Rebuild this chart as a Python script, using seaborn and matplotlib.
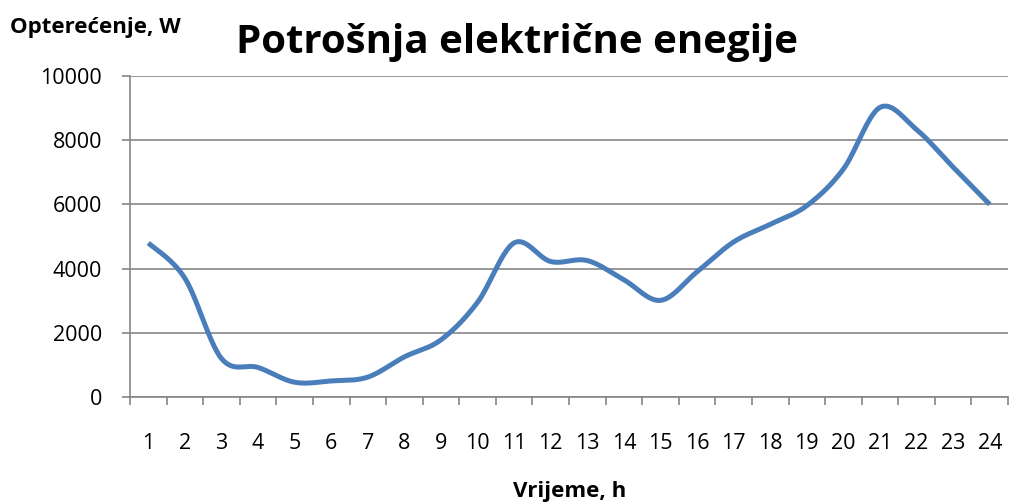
import numpy as np
import pandas as pd
import matplotlib
matplotlib.use("Agg")
import matplotlib.pyplot as plt
import seaborn as sns

# data
hours = list(range(1, 25))
load_w = [4800, 3700, 1200, 920, 460, 500, 620, 1250, 1780, 2950,
          4800, 4220, 4250, 3650, 3010, 3900, 4830, 5380, 5960, 7100,
          9020, 8330, 7160, 6000]

title = "Potrošnja električne enegije"
ylabel = "Opterećenje, W"
xlabel = "Vrijeme, h"

LINE_BLUE = "#4a7ebb"
GRID_GREY = "#868686"


def smooth_curve(x, y, steps=30):
    # Excel-like smoothed line: cubic bezier with catmull-rom control points
    x = np.asarray(x, float)
    y = np.asarray(y, float)
    px = np.concatenate([[x[0]], x, [x[-1]]])
    py = np.concatenate([[y[0]], y, [y[-1]]])
    xs, ys = [], []
    t = np.linspace(0, 1, steps)
    for i in range(1, len(px) - 2):
        p0 = np.array([px[i], py[i]])
        p3 = np.array([px[i + 1], py[i + 1]])
        c1 = p0 + (np.array([px[i + 1], py[i + 1]]) - np.array([px[i - 1], py[i - 1]])) / 6
        c2 = p3 - (np.array([px[i + 2], py[i + 2]]) - np.array([px[i], py[i]])) / 6
        pts = ((1 - t) ** 3)[:, None] * p0 + (3 * (1 - t) ** 2 * t)[:, None] * c1 \
            + (3 * (1 - t) * t ** 2)[:, None] * c2 + (t ** 3)[:, None] * p3
        xs.extend(pts[:, 0])
        ys.extend(pts[:, 1])
    return np.array(xs), np.array(ys)


sns.set_theme(style="white")
plt.rcParams["font.family"] = ["Open Sans", "DejaVu Sans"]
plt.rcParams["text.color"] = "black"

fig = plt.figure(figsize=(10.10, 5.04), dpi=100)
ax = fig.add_axes([130 / 1010, 1 - 397 / 504, 878 / 1010, 321 / 504])

sx, sy = smooth_curve(hours, load_w)
df = pd.DataFrame({"sat": sx, "opterecenje": sy})
sns.lineplot(data=df, x="sat", y="opterecenje", color=LINE_BLUE, linewidth=3.6,
             sort=False, ax=ax, solid_capstyle="butt")

ax.set_xlim(0.5, 24.5)
ax.set_ylim(0, 10000)
ax.set_yticks(range(0, 10001, 2000))
ax.set_xticks(hours)
ax.set_xticks(np.arange(0.5, 25, 1), minor=True)
ax.set_xlabel("")
ax.set_ylabel("")

ax.grid(axis="y", color=GRID_GREY, linewidth=1.2)
ax.set_axisbelow(True)
for side in ["top", "right"]:
    ax.spines[side].set_visible(False)
for side in ["left", "bottom"]:
    ax.spines[side].set_color(GRID_GREY)
    ax.spines[side].set_linewidth(1.2)

ax.tick_params(axis="y", which="major", left=True, length=6, width=1.2,
               color=GRID_GREY, pad=14, labelsize=15.5, labelcolor="black")
ax.tick_params(axis="x", which="major", bottom=False, length=0, pad=26,
               labelsize=15.5, labelcolor="black")
ax.tick_params(axis="x", which="minor", bottom=True, length=6, width=1.2,
               color=GRID_GREY)

fig.text(517 / 1010, 1 - 42 / 504, title, ha="center", va="center",
         fontsize=29, fontweight="bold", color="black")
fig.text(10 / 1010, 1 - 27 / 504, ylabel, ha="left", va="center",
         fontsize=16, fontweight="bold", color="black")
fig.text(570 / 1010, 1 - 491 / 504, xlabel, ha="center", va="center",
         fontsize=16, fontweight="bold", color="black")

fig.savefig("out.png", dpi=100)
